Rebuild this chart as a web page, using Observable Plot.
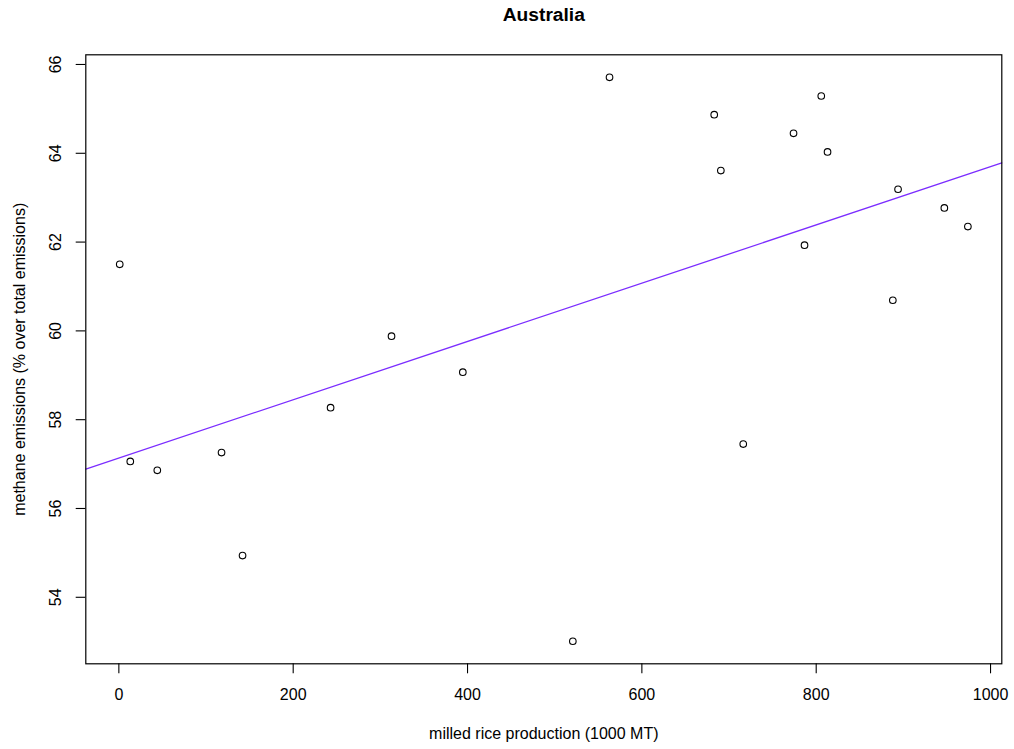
<!DOCTYPE html>
<html>
<head>
<meta charset="utf-8">
<script src="https://cdn.jsdelivr.net/npm/d3@7"></script>
<script src="https://cdn.jsdelivr.net/npm/@observablehq/plot@0.6"></script>
<style>
  html, body { margin: 0; padding: 0; background: #ffffff; }
  #chart svg { display: block; font-family: "Liberation Sans", Arial, Helvetica, sans-serif; }
</style>
</head>
<body>
<div id="chart"></div>
<script>
// Australia: milled rice production vs methane share of total emissions
const production = [1, 13.1, 44.1, 117.8, 141.9, 242.9, 312.8, 394.6, 520.8, 562.9,
  683.0, 690.6, 716.3, 774.0, 786.6, 805.8, 813.0, 887.9, 893.9, 947.0, 974.0];
const methaneShare = [61.50, 57.06, 56.86, 57.26, 54.94, 58.27, 59.88, 59.07, 53.01, 65.71,
  64.87, 63.61, 57.45, 64.45, 61.93, 65.29, 64.03, 60.69, 63.19, 62.77, 62.35];

const xTicks = [0, 200, 400, 600, 800, 1000];
const yTicks = [54, 56, 58, 60, 62, 64, 66];

const title = "Australia";
const xLabel = "milled rice production (1000 MT)";
const yLabel = "methane emissions (% over total emissions)";

const points = production.map((x, i) => ({x, y: methaneShare[i]}));

// axis ranges padded by 4% on each side
function padded(values) {
  const [lo, hi] = d3.extent(values);
  const pad = (hi - lo) * 0.04;
  return [lo - pad, hi + pad];
}
const xDomain = padded(production);
const yDomain = padded(methaneShare);

// least-squares fit, drawn across the whole plotting region
const mx = d3.mean(production), my = d3.mean(methaneShare);
const sxy = d3.sum(points, d => (d.x - mx) * (d.y - my));
const sxx = d3.sum(points, d => (d.x - mx) ** 2);
const slope = sxy / sxx;
const intercept = my - slope * mx;
const fitLine = xDomain.map(x => ({x, y: intercept + slope * x}));

const chart = Plot.plot({
  width: 1014,
  height: 749,
  marginLeft: 85.3,
  marginRight: 12.7,
  marginTop: 54.3,
  marginBottom: 85.7,
  style: {fontFamily: "Liberation Sans, Arial, sans-serif", background: "#ffffff"},
  x: {domain: xDomain, inset: 0},
  y: {domain: yDomain, inset: 0},
  marks: [
    Plot.axisX(xTicks, {tickSize: 10, tickPadding: 15, fontSize: 16, tickFormat: d => String(d),
      stroke: "#000", fill: "#000", strokeWidth: 1.1, label: null}),
    Plot.axisY(yTicks, {tickSize: 9.6, tickFormat: () => "", stroke: "#000", strokeWidth: 1.1, label: null}),
    Plot.text(yTicks, {y: d => d, text: d => String(d), frameAnchor: "left", rotate: -90,
      textAnchor: "middle", lineAnchor: "bottom", dx: -25.3, fontSize: 16, fill: "#000"}),
    Plot.line(fitLine, {x: "x", y: "y", stroke: "#7b2cff", strokeWidth: 1.3}),
    Plot.dot(points, {x: "x", y: "y", r: 3.3, stroke: "#000", strokeWidth: 1.1, fill: "none"}),
    Plot.frame({stroke: "#000", strokeWidth: 1.2}),
    Plot.text([title], {frameAnchor: "top", lineAnchor: "bottom", dy: -33.6,
      fontSize: 19.2, fontWeight: "bold", fill: "#000"}),
    Plot.text([xLabel], {frameAnchor: "bottom", lineAnchor: "bottom", dy: 74.7,
      fontSize: 16, fill: "#000"}),
    Plot.text([yLabel], {frameAnchor: "left", lineAnchor: "bottom", textAnchor: "middle",
      rotate: -90, dx: -61.3, fontSize: 16, fill: "#000"})
  ]
});

document.getElementById("chart").appendChild(chart);
</script>
</body>
</html>
